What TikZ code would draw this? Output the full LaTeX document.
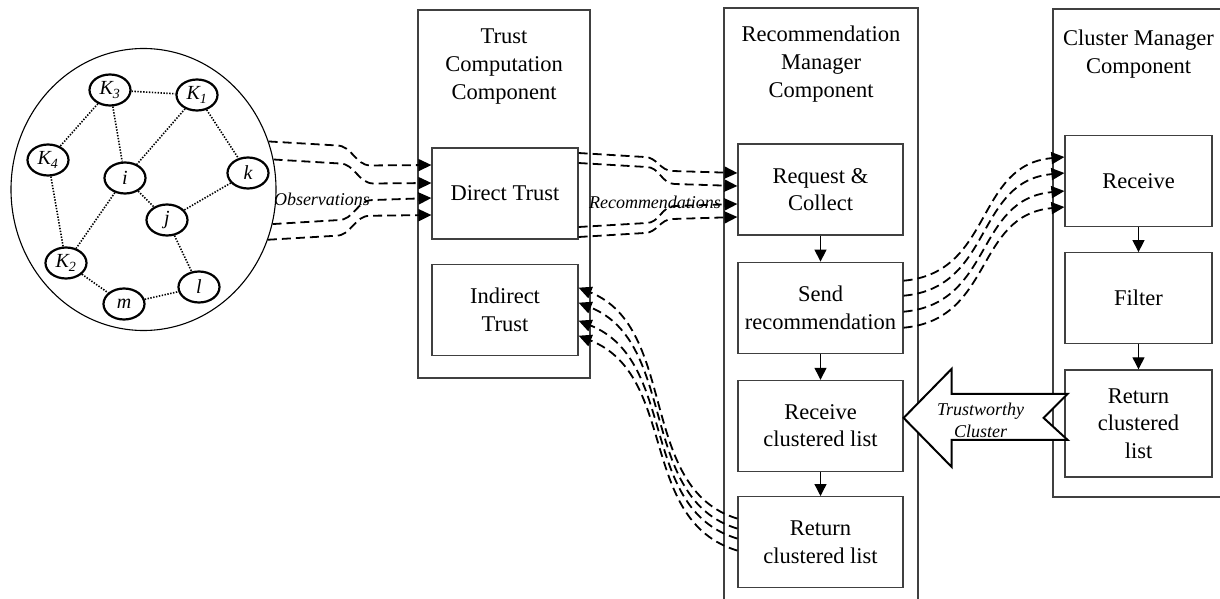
\documentclass[tikz,border=0pt]{standalone}
\usepackage{fontspec}
\setmainfont{Liberation Serif}
\usetikzlibrary{positioning,shapes.geometric,arrows.meta}
\tikzset{
	peer node/.style={ellipse, draw, line width=2.2pt, minimum width=41pt, minimum height=31pt, inner sep=0pt, font=\fontsize{20}{20}\selectfont\itshape},
	net node/.style={ellipse, draw, line width=1.1pt, minimum width=265pt, minimum height=282pt, inner sep=0pt},
	comp node/.style={draw=black!75, line width=1.2pt, inner sep=0pt},
	task node/.style={draw=black!75, line width=1.2pt, minimum width=147pt, minimum height=91pt, inner sep=0pt, align=center, font=\fontsize{22.5}{27.5}\selectfont},
	title node/.style={inner sep=0pt, align=center, font=\fontsize{22.5}{28}\selectfont},
	note node/.style={inner sep=0pt, align=center, font=\fontsize{18}{22}\selectfont\itshape},
	link/.style={line width=1.6pt, dash pattern=on 1.4pt off 1.5pt},
	flow line/.style={line width=1.3pt, -{Triangle[length=12pt,width=12pt]}},
	data line/.style={line width=1.8pt, dash pattern=on 9pt off 5pt, -{Triangle[length=13pt,width=12pt]}},
	cluster arrow/.style={draw, fill=white, line width=2pt, line join=miter},
}
\begin{document}
\begin{tikzpicture}[x=1pt, y=-1pt]
\useasboundingbox (0,0) rectangle (1220,599);

\node[comp node, minimum width=172pt, minimum height=368pt] (tcc) at (504,194) {};
\node[comp node, minimum width=194pt, minimum height=612pt] (rmc) at (821,314) {};
\node[comp node, minimum width=171pt, minimum height=488pt] (cmc) at (1138.5,253) {};
\node[title node, below=19pt of tcc.north] (tcct) {Trust\\Computation\\Component};
\node[title node, below=18pt of rmc.north] (rmct) {Recommendation\\Manager\\Component};
\node[title node, below=21pt of cmc.north] (cmct) {Cluster Manager\\Component};

\node[task node, minimum width=146pt] (dtrust) at (505,193.5) {Direct Trust};
\node[task node, minimum width=146pt, below=24pt of dtrust] (itrust) {Indirect\\Trust};
\node[task node, minimum width=165pt] (reqc) at (820.5,189.5) {Request \&\\Collect};
\node[task node, minimum width=165pt, below=26pt of reqc] (sendr) {Send\\recommendation};
\node[task node, minimum width=165pt, below=26pt of sendr] (recvl) {Receive\\clustered list};
\node[task node, minimum width=165pt, below=24pt of recvl] (retl) {Return\\clustered list};
\node[task node] (recv) at (1138.5,181) {Receive};
\node[task node, below=25pt of recv] (filt) {Filter};
\node[task node, minimum height=107pt, below=25pt of filt] (retc) {Return\\clustered\\list};

\node[net node] (net) at (143.5,189.5) {};
\node[peer node] (k3) at (110,90) {K\textsubscript{3}};
\node[peer node] (k1) at (197,95) {K\textsubscript{1}};
\node[peer node] (k4) at (48,160) {K\textsubscript{4}};
\node[peer node] (ni) at (125,178) {i};
\node[peer node] (nk) at (248,173) {k};
\node[peer node] (nj) at (167,220) {j};
\node[peer node] (k2) at (66,263) {K\textsubscript{2}};
\node[peer node] (nm) at (124,304) {m};
\node[peer node] (nl) at (199,287) {l};
\draw[link] (k3) -- (k1) (k3) -- (k4) (k3) -- (ni) (k1) -- (ni) (k1) -- (nk) (k4) -- (k2)
  (ni) -- (k2) (ni) -- (nj) (nk) -- (nj) (nj) -- (nl) (k2) -- (nm) (nm) -- (nl);

\node[note node] (obs) at (322,199) {Observations};
\node[note node] (recs) at (655,202) {Recommendations};

\draw[data line] (net.21) -- ++(68,4) to[out=0,in=180] ++(34,20) -- ([yshift=28.5pt]dtrust.west);
\draw[data line] (net.13) -- ++(66,4) to[out=0,in=180] ++(34,20) -- ([yshift=10.5pt]dtrust.west);
\draw[data line] (net.-15) -- ++(66,-4) to[out=0,in=180] ++(34,-20) -- ([yshift=-4.5pt]dtrust.west);
\draw[data line] (net.-22) -- ++(68,-4) to[out=0,in=180] ++(34,-20) -- ([yshift=-21.5pt]dtrust.west);

\draw[data line] ([yshift=40.5pt]dtrust.east) -- ++(66,4) to[out=0,in=180] ++(28,14) -- ([yshift=16.5pt]reqc.west);
\draw[data line] ([yshift=30.5pt]dtrust.east) -- ++(68,4) to[out=0,in=180] ++(28,17) -- ([yshift=3.5pt]reqc.west);
\draw[data line] ([yshift=-33.5pt]dtrust.east) -- ++(68,-4) to[out=0,in=180] ++(28,-17) -- ([yshift=-14.5pt]reqc.west);
\draw[data line] ([yshift=-43.5pt]dtrust.east) -- ++(66,-4) to[out=0,in=180] ++(28,-14) -- ([yshift=-27.5pt]reqc.west);

\draw[flow line] (reqc) -- (sendr);
\draw[flow line] (sendr) -- (recvl);
\draw[flow line] (recvl) -- (retl);
\draw[flow line] (recv) -- (filt);
\draw[flow line] (filt) -- (retc);

\draw[data line] ([yshift=27pt]sendr.east) .. controls +(90,-8) and +(-90,8) .. ([yshift=24pt]recv.west);
\draw[data line] ([yshift=12pt]sendr.east) .. controls +(90,-8) and +(-90,8) .. ([yshift=8pt]recv.west);
\draw[data line] ([yshift=-4pt]sendr.east) .. controls +(90,-8) and +(-90,8) .. ([yshift=-10pt]recv.west);
\draw[data line] ([yshift=-20pt]sendr.east) .. controls +(90,-8) and +(-90,8) .. ([yshift=-26pt]recv.west);

\draw[data line] ([yshift=23.5pt]retl.west) .. controls +(-100,-30) and +(100,40) .. ([yshift=22pt]itrust.east);
\draw[data line] ([yshift=13.5pt]retl.west) .. controls +(-100,-30) and +(100,40) .. ([yshift=7pt]itrust.east);
\draw[data line] ([yshift=3.5pt]retl.west) .. controls +(-100,-30) and +(100,40) .. ([yshift=-11pt]itrust.east);
\draw[data line] ([yshift=-8.5pt]retl.west) .. controls +(-100,-30) and +(100,40) .. ([yshift=-26pt]itrust.east);

\coordinate (tip) at ([yshift=8pt]recvl.east);
\draw[cluster arrow] (tip) -- ++(48,-49) -- ++(0,25) -- ++(116,0) -- ++(-24,24) -- ++(24,22)
  -- ++(-116,0) -- ++(0,27) -- cycle;
\node[note node] (twc) at ([xshift=77pt,yshift=-2pt]tip) {Trustworthy\\Cluster};

\end{tikzpicture}
\end{document}
